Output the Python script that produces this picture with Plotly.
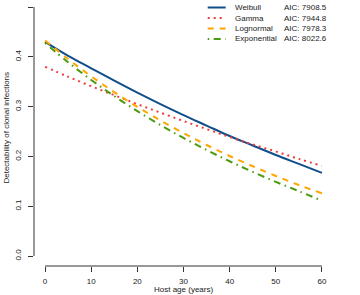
import plotly.graph_objects as go

# ---- data ----
age = [0, 5, 10, 15, 20, 25, 30, 35, 40, 45, 50, 55, 60]
weibull = [0.430, 0.402, 0.377, 0.352, 0.328, 0.305, 0.283, 0.262, 0.241, 0.222, 0.203, 0.185, 0.167]
gamma = [0.380, 0.360, 0.341, 0.323, 0.305, 0.288, 0.271, 0.255, 0.239, 0.224, 0.210, 0.195, 0.181]
lognormal = [0.433, 0.3955, 0.3609, 0.3291, 0.2996, 0.2722, 0.2468, 0.2230, 0.2009, 0.1803, 0.1608, 0.1426, 0.126]
exponential = [0.428, 0.3889, 0.3536, 0.3211, 0.2910, 0.2631, 0.2371, 0.2130, 0.1903, 0.1690, 0.1490, 0.1302, 0.111]

models = ["Weibull", "Gamma", "Lognormal", "Exponential"]
aic = ["7908.5", "7944.8", "7978.3", "8022.6"]
series = [weibull, gamma, lognormal, exponential]

x_ticks = [0, 10, 20, 30, 40, 50, 60]
y_ticks = [0.0, 0.1, 0.2, 0.3, 0.4, 0.5]
y_ticklabels = ["0.0", "0.1", "0.2", "0.3", "0.4", "0.5"]

# ---- styles ----
colors = ["#104E8B", "#F03B3B", "#FFA500", "#4C9A0E"]
dashes = ["solid", "2px,4px", "6px,6px", "1.5px,4.5px,7px,4.5px"]
widths = [2, 2, 2, 2]
FONT = "Liberation Sans, Arial, sans-serif"
TXT = "#1a1a1a"

W, H = 360, 295
ML, MR, MT, MB = 34, 26.5, 0, 29
PW, PH = W - ML - MR, H - MT - MB


def px(xp):
    return (xp - ML) / PW


def py(yp):
    return (H - MB - yp) / PH


fig = go.Figure()
for name, ys, c, d, w in zip(models, series, colors, dashes, widths):
    fig.add_trace(go.Scatter(x=age, y=ys, mode="lines", name=name,
                             line=dict(color=c, dash=d, width=w, shape="spline"),
                             showlegend=False, hoverinfo="skip"))

shapes = [
    dict(type="line", xref="paper", yref="y", x0=0, x1=0, y0=0, y1=0.5,
         line=dict(color="#333333", width=1)),
    dict(type="line", xref="x", yref="paper", x0=0, x1=60, y0=0, y1=0,
         line=dict(color="#333333", width=1)),
]
annotations = []
row_y = [7.5, 18, 28.5, 39]
for i, (name, a) in enumerate(zip(models, aic)):
    yy = py(row_y[i])
    shapes.append(dict(type="line", xref="paper", yref="paper",
                       x0=px(208), x1=px(226), y0=yy, y1=yy,
                       line=dict(color=colors[i], dash=dashes[i], width=widths[i])))
    annotations.append(dict(xref="paper", yref="paper", x=px(233), y=yy,
                            text=name, showarrow=False, xanchor="left", yanchor="middle",
                            font=dict(family=FONT, size=8, color=TXT)))
    annotations.append(dict(xref="paper", yref="paper", x=px(282.5), y=yy,
                            text="AIC: " + a, showarrow=False, xanchor="left", yanchor="middle",
                            font=dict(family=FONT, size=8, color=TXT)))

annotations.append(dict(xref="paper", yref="paper", x=px(183.6), y=py(289.5),
                        text="Host age (years)", showarrow=False,
                        xanchor="center", yanchor="middle",
                        font=dict(family=FONT, size=8, color=TXT)))
annotations.append(dict(xref="paper", yref="paper", x=px(5.5), y=py(128),
                        text="Detectability of clonal infections", showarrow=False,
                        textangle=-90, xanchor="center", yanchor="middle",
                        font=dict(family=FONT, size=8, color=TXT)))

fig.update_layout(
    width=W, height=H,
    margin=dict(l=ML, r=MR, t=MT, b=MB, pad=0, autoexpand=False),
    paper_bgcolor="white", plot_bgcolor="white",
    shapes=shapes, annotations=annotations,
    font=dict(family=FONT, size=8, color=TXT),
)
fig.update_xaxes(range=[-2.4, 62.4], tickvals=x_ticks, ticks="outside", ticklen=5,
                 tickcolor="#333", tickwidth=1, showgrid=False, zeroline=False,
                 showline=False, automargin=False, ticklabelstandoff=2,
                 tickfont=dict(family=FONT, size=8, color=TXT))
fig.update_yaxes(range=[-0.02, -0.02 + PH / 498], tickvals=y_ticks, ticktext=y_ticklabels,
                 ticks="outside", ticklen=5, tickcolor="#333", tickwidth=1,
                 tickangle=-90, showgrid=False, zeroline=False, showline=False,
                 automargin=False, ticklabelstandoff=4,
                 tickfont=dict(family=FONT, size=8, color=TXT))

fig.write_html("out.html", config={"displayModeBar": False},
               post_script="document.body.style.margin='0';document.body.style.overflow='hidden';")
